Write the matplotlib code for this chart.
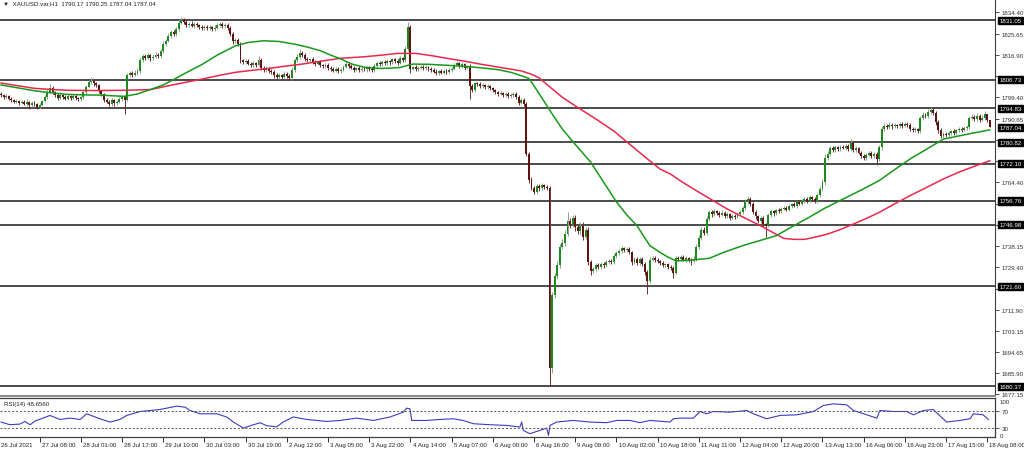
import matplotlib
matplotlib.use('Agg')
import matplotlib.pyplot as plt
import numpy as np
from matplotlib.transforms import blended_transform_factory

plt.rcParams['font.family'] = ['Liberation Sans', 'DejaVu Sans']

# ---------------- data ----------------
first_open = 1800.6
closes = [
    1800.2, 1799.5, 1799.8, 1798.9, 1798.2, 1797.6, 1797.9, 1797.2, 1797.5, 1796.8, 1797.4, 1796.2, 1797.0, 1796.5, 1795.6, 1796.4,
    1797.8, 1799.6, 1801.8, 1803.2, 1801.5, 1800.2, 1799.1, 1800.4, 1799.6, 1798.8, 1799.9, 1799.3, 1800.1, 1799.0, 1798.6, 1799.4,
    1801.5, 1803.8, 1805.6, 1806.2, 1805.1, 1804.3, 1802.0, 1800.6, 1798.4, 1797.5, 1796.8, 1798.2, 1797.0, 1797.6, 1798.8, 1799.6,
    1798.5, 1808.6, 1809.4, 1808.8, 1809.6, 1810.2, 1814.8, 1816.3, 1815.6, 1816.8, 1815.4, 1816.2, 1817.0, 1816.4, 1818.5, 1821.4,
    1822.6, 1824.8, 1826.3, 1825.5, 1827.4, 1830.2, 1831.4, 1830.6, 1829.1, 1829.8, 1828.9, 1829.6, 1829.2, 1828.4, 1827.9, 1828.5,
    1827.8, 1828.3, 1827.6, 1828.1, 1829.0, 1829.6, 1828.7, 1829.3, 1828.1, 1825.6, 1822.4, 1822.9, 1821.5, 1814.6, 1813.8, 1814.4,
    1813.2, 1812.6, 1813.4, 1812.9, 1814.8, 1811.5, 1810.6, 1811.2, 1810.3, 1809.8, 1808.4, 1807.6, 1808.5, 1807.9, 1809.2, 1808.1,
    1807.4, 1810.8, 1814.6, 1816.2, 1817.6, 1816.9, 1815.3, 1814.6, 1815.1, 1813.9, 1813.2, 1813.8, 1812.6, 1812.1, 1812.8, 1811.6,
    1811.2, 1810.4, 1811.0, 1810.2, 1810.8, 1811.9, 1813.2, 1812.4, 1811.6, 1810.7, 1811.3, 1810.6, 1811.2, 1810.9, 1811.5, 1811.0,
    1810.6, 1812.4, 1813.6, 1813.1, 1814.0, 1813.5, 1814.2, 1813.8, 1815.0, 1814.4, 1813.6, 1815.4, 1814.8, 1819.5, 1828.4, 1811.2,
    1811.8, 1810.9, 1811.6, 1812.0, 1811.4, 1811.9, 1811.2, 1810.6, 1810.0, 1809.4, 1810.2, 1809.6, 1810.4, 1809.8, 1810.6, 1811.2,
    1812.8, 1813.4, 1812.2, 1813.0, 1811.6, 1812.1, 1804.0, 1802.6, 1805.2, 1804.8, 1804.0, 1804.4, 1803.6, 1803.9, 1803.2, 1802.4,
    1801.4, 1800.8, 1801.2, 1800.3, 1800.7, 1799.9, 1800.4, 1800.9, 1799.6, 1797.2, 1798.4, 1796.8, 1776.2, 1765.4, 1762.0, 1760.6,
    1762.8, 1761.9, 1763.2, 1762.6, 1762.1, 1688.0, 1718.0, 1726.0, 1730.4, 1737.8, 1739.6, 1743.2, 1748.4, 1747.0, 1749.6, 1745.8,
    1744.2, 1746.6, 1742.0, 1744.8, 1731.6, 1727.8, 1728.6, 1730.2, 1729.6, 1730.8, 1730.2, 1731.4, 1732.0, 1731.6, 1734.0, 1735.2,
    1736.0, 1737.2, 1736.4, 1737.0, 1735.6, 1731.4, 1732.8, 1731.2, 1733.0, 1730.6, 1727.4, 1723.8, 1732.6, 1733.2, 1732.4, 1731.8,
    1731.0, 1730.2, 1730.6, 1729.4, 1729.0, 1727.2, 1733.4, 1732.8, 1733.6, 1732.6, 1733.2, 1732.4, 1731.8, 1733.0, 1737.8, 1741.6,
    1744.8, 1743.6, 1749.2, 1752.0, 1751.2, 1752.4, 1751.6, 1751.0, 1751.8, 1750.6, 1751.2, 1749.8, 1750.6, 1750.2, 1751.4, 1752.0,
    1753.8, 1756.2, 1757.4, 1755.6, 1752.0, 1750.4, 1748.6, 1749.8, 1747.2, 1746.6, 1750.8, 1752.4, 1751.6, 1753.0, 1752.6, 1753.4,
    1754.0, 1753.2, 1754.6, 1755.4, 1754.8, 1756.2, 1755.6, 1756.8, 1757.6, 1756.8, 1758.2, 1757.4, 1756.6, 1759.2, 1761.8, 1764.6,
    1774.6, 1776.2, 1778.4, 1777.6, 1778.8, 1778.2, 1779.0, 1778.6, 1779.4, 1778.0, 1780.6, 1777.8, 1778.4, 1776.6, 1775.2, 1774.4,
    1775.8, 1776.6, 1775.4, 1776.2, 1774.0, 1778.8, 1786.4, 1787.8, 1787.0, 1788.2, 1787.4, 1788.0, 1787.6, 1788.4, 1787.8, 1788.6,
    1788.0, 1786.4, 1785.8, 1786.2, 1785.6, 1790.8, 1792.2, 1791.6, 1793.4, 1794.2, 1793.0, 1789.2, 1786.0, 1783.6, 1784.4, 1783.8,
    1784.8, 1785.4, 1784.6, 1785.8, 1786.4, 1786.0, 1786.8, 1787.2, 1790.8, 1791.4, 1790.6, 1791.8, 1790.2, 1791.0, 1792.6, 1790.17, 1787.04,
]
wick_up = [
    0.8, 0.6, 0.9, 0.5, 0.7, 0.6, 1.0, 0.5, 0.8, 0.6, 1.2, 0.5, 0.7, 0.9, 0.6, 0.8,
    0.6, 0.9, 1.2, 1.8, 0.7, 0.6, 0.8, 1.0, 0.5, 0.7, 0.9, 0.6, 0.8, 0.5, 0.7, 0.6,
    0.8, 0.7, 1.0, 1.4, 0.6, 0.8, 0.7, 0.6, 0.5, 0.8, 0.7, 0.9, 0.6, 0.8, 0.7, 0.9,
    0.9, 1.0, 0.8, 0.7, 0.9, 1.1, 1.2, 0.8, 0.9, 0.7, 0.6, 0.9, 1.0, 0.8, 0.9, 1.1,
    0.8, 1.0, 0.9, 0.8, 1.1, 1.3, 1.0, 0.7, 0.8, 0.6, 0.9, 0.7, 0.8, 0.6, 0.7, 0.8,
    0.7, 0.8, 0.6, 0.9, 1.2, 0.8, 0.7, 0.9, 0.6, 0.8, 0.7, 0.9, 0.8, 0.6, 0.7, 0.8,
    0.7, 0.8, 0.9, 0.6, 1.6, 0.8, 0.7, 0.9, 0.6, 0.8, 0.7, 0.9, 0.8, 0.6, 0.9, 0.7,
    0.8, 0.9, 1.0, 1.2, 1.8, 0.8, 0.7, 0.9, 0.6, 0.8, 0.7, 0.6, 0.8, 0.7, 0.9, 0.6,
    0.6, 0.8, 0.7, 0.9, 0.6, 0.8, 1.0, 0.7, 0.6, 0.8, 0.7, 0.9, 0.6, 0.8, 0.7, 0.6,
    0.7, 0.8, 0.9, 0.6, 0.8, 0.7, 0.9, 0.6, 0.8, 0.7, 0.6, 0.9, 0.8, 1.2, 2.1, 0.6,
    0.7, 0.8, 0.6, 0.9, 0.7, 0.8, 0.6, 0.7, 0.8, 0.9, 0.6, 0.7, 0.8, 0.6, 0.9, 0.7,
    0.9, 0.8, 0.7, 0.9, 0.6, 0.8, 0.9, 0.8, 0.7, 0.6, 0.8, 0.7, 0.6, 0.8, 0.7, 0.6,
    0.6, 0.7, 0.8, 0.6, 0.7, 0.8, 0.6, 0.7, 0.8, 0.6, 0.9, 0.7, 0.6, 0.8, 1.0, 0.9,
    0.8, 0.9, 1.0, 0.7, 0.9, 0.6, 1.4, 1.2, 1.5, 1.3, 1.6, 1.4, 3.6, 1.2, 1.4, 1.5,
    1.2, 1.4, 1.5, 1.1, 1.0, 0.9, 0.8, 1.0, 0.9, 0.8, 0.7, 0.9, 0.8, 0.7, 0.9, 1.0,
    0.8, 0.9, 0.7, 0.8, 0.9, 0.7, 0.8, 0.9, 0.7, 0.8, 0.9, 0.8, 1.0, 0.9, 0.8, 0.7,
    0.7, 0.8, 0.6, 0.7, 0.8, 0.9, 0.8, 0.7, 0.9, 0.8, 0.7, 0.6, 0.8, 0.9, 1.0, 1.2,
    1.1, 1.2, 1.4, 1.0, 0.8, 0.9, 0.7, 0.8, 0.9, 0.7, 0.8, 0.6, 0.7, 0.8, 0.9, 1.0,
    0.9, 1.1, 1.3, 0.8, 0.7, 0.9, 0.6, 0.8, 0.7, 0.6, 0.8, 0.9, 0.7, 0.6, 0.8, 0.7,
    0.8, 0.7, 0.9, 0.6, 0.8, 0.7, 0.9, 0.8, 0.7, 0.6, 0.9, 0.7, 0.8, 1.0, 1.1, 1.2,
    1.3, 1.0, 0.9, 0.8, 0.9, 0.7, 0.8, 0.9, 0.7, 0.8, 1.6, 0.9, 0.8, 0.7, 0.9, 0.8,
    0.7, 0.8, 0.9, 0.7, 0.6, 1.0, 1.3, 1.0, 0.8, 0.9, 0.7, 0.8, 0.6, 0.9, 0.7, 0.8,
    0.7, 0.8, 0.6, 0.9, 0.7, 1.0, 1.1, 0.9, 1.0, 1.2, 1.0, 0.8, 0.9, 0.7, 0.8, 0.6,
    0.8, 0.7, 0.9, 0.6, 0.8, 0.7, 0.9, 0.8, 1.0, 1.2, 0.9, 1.1, 0.8, 1.0, 1.3, 0.08, 0.0,
]
wick_dn = [
    0.6, 0.9, 0.5, 0.8, 0.6, 0.7, 0.5, 0.9, 0.6, 0.7, 0.8, 1.4, 0.6, 0.5, 1.1, 0.6,
    0.7, 0.5, 0.8, 0.6, 0.9, 0.7, 0.6, 0.5, 0.8, 0.6, 0.7, 0.9, 0.5, 0.6, 0.8, 0.7,
    0.6, 0.8, 0.5, 0.7, 0.9, 0.6, 0.8, 0.7, 0.9, 0.6, 1.0, 0.8, 1.2, 0.7, 0.6, 0.8,
    6.0, 0.8, 0.7, 0.9, 0.6, 0.8, 0.7, 0.9, 0.8, 0.6, 0.9, 0.7, 0.8, 0.6, 0.7, 0.9,
    0.7, 0.6, 0.8, 0.9, 0.7, 0.8, 0.6, 0.9, 0.7, 0.8, 0.6, 0.9, 0.7, 0.8, 0.9, 0.6,
    0.8, 0.6, 0.9, 0.7, 0.6, 0.8, 0.9, 0.7, 0.8, 0.9, 1.0, 0.8, 0.9, 1.1, 0.8, 0.7,
    0.6, 0.8, 0.7, 0.9, 0.6, 0.8, 0.9, 0.7, 0.8, 0.6, 0.9, 1.0, 0.7, 0.8, 0.6, 0.9,
    1.0, 0.7, 0.8, 0.6, 0.9, 0.7, 0.8, 0.6, 0.7, 0.9, 0.8, 0.6, 0.7, 0.8, 0.6, 0.9,
    0.8, 0.7, 0.6, 0.9, 0.8, 0.7, 0.6, 0.8, 0.7, 0.9, 0.6, 0.8, 0.7, 0.6, 0.9, 0.7,
    0.8, 0.6, 0.7, 0.9, 0.6, 0.8, 0.7, 0.9, 0.6, 0.8, 0.7, 0.6, 0.8, 0.7, 0.9, 1.7,
    0.6, 0.8, 0.7, 0.6, 0.9, 0.7, 0.8, 0.6, 0.7, 0.8, 0.9, 0.6, 0.7, 0.8, 0.6, 0.7,
    0.7, 0.6, 0.8, 0.7, 0.9, 0.6, 5.3, 0.9, 0.8, 0.7, 0.6, 0.8, 0.7, 0.6, 0.8, 0.7,
    0.7, 0.8, 0.6, 0.7, 0.8, 0.6, 0.7, 0.8, 0.9, 0.8, 0.7, 1.0, 0.8, 1.2, 0.9, 1.1,
    0.9, 1.0, 0.8, 0.9, 0.8, 7.6, 2.0, 1.3, 1.4, 1.2, 1.0, 1.3, 1.1, 1.4, 1.2, 1.3,
    1.1, 1.3, 1.2, 1.0, 1.4, 1.5, 0.9, 0.8, 1.0, 0.7, 0.9, 0.8, 0.7, 0.9, 0.8, 0.7,
    0.7, 0.8, 0.9, 0.7, 0.8, 0.9, 0.7, 0.8, 0.9, 0.8, 1.2, 5.3, 0.9, 0.8, 0.7, 0.8,
    0.8, 0.6, 0.7, 0.9, 0.8, 2.2, 0.7, 0.8, 0.6, 0.7, 0.9, 0.8, 1.4, 0.7, 0.8, 0.9,
    1.0, 0.9, 0.8, 0.7, 0.9, 0.6, 0.8, 0.7, 0.6, 0.8, 0.7, 0.9, 0.6, 0.8, 0.7, 0.6,
    0.7, 0.8, 0.6, 0.9, 0.8, 1.0, 0.9, 1.1, 1.0, 4.6, 0.8, 0.7, 0.9, 0.6, 0.8, 0.7,
    0.6, 0.8, 0.7, 0.9, 0.6, 0.8, 0.7, 0.6, 0.8, 0.9, 0.7, 0.6, 0.8, 0.7, 0.9, 1.0,
    1.2, 0.9, 0.8, 0.7, 0.9, 0.8, 0.7, 0.6, 0.8, 0.9, 0.7, 0.8, 0.9, 0.7, 0.8, 0.9,
    0.8, 0.7, 0.9, 0.8, 2.5, 1.0, 1.2, 0.9, 0.8, 0.7, 0.9, 0.6, 0.8, 0.7, 0.9, 0.6,
    0.8, 0.9, 0.7, 0.6, 0.8, 0.9, 0.7, 0.8, 0.6, 0.9, 0.8, 1.0, 1.2, 1.1, 0.8, 0.9,
    0.7, 0.8, 0.6, 0.9, 0.7, 0.8, 0.6, 0.9, 0.8, 0.7, 0.9, 0.8, 1.0, 0.7, 0.8, 0.9, 0.0,
]

ma_green_idx = [0, 6, 13, 20, 26, 33, 39, 44, 48, 53, 58, 63, 67, 72, 78, 84, 91, 96, 102, 108, 114, 119, 124,
                128, 132, 136, 141, 147, 151, 155, 158, 160, 166, 173, 178, 182, 187, 193, 198, 202, 205, 208,
                212, 215, 218, 223, 229, 234, 239, 243, 247, 250, 252, 256, 259, 262, 266, 269, 275, 281, 288,
                294, 301, 307, 314, 320, 327, 334, 341, 347, 353, 360, 366, 372, 378, 384]
ma_green_val = [1804.5, 1803.4, 1802.1, 1801.2, 1800.6, 1800.4, 1800.3, 1800.0, 1799.8, 1800.8, 1802.6, 1804.5,
                1806.7, 1809.6, 1812.9, 1816.8, 1820.6, 1822.0, 1822.7, 1822.4, 1821.3, 1820.1, 1818.6, 1816.8,
                1815.2, 1813.2, 1811.8, 1811.3, 1811.4, 1811.7, 1812.6, 1813.1, 1813.0, 1812.6, 1812.3, 1812.0,
                1811.5, 1810.8, 1809.7, 1808.3, 1807.2, 1802.5, 1795.9, 1791.0, 1786.3, 1780.0, 1772.7, 1764.5,
                1756.3, 1751.0, 1746.5, 1741.5, 1738.3, 1735.5, 1733.6, 1732.1, 1732.2, 1732.5, 1733.1, 1735.7,
                1738.3, 1740.2, 1742.4, 1746.0, 1750.1, 1753.8, 1757.5, 1761.2, 1765.1, 1769.6, 1774.0, 1778.4,
                1782.2, 1783.5, 1784.8, 1786.0]
ma_red_idx = [0, 7, 13, 20, 26, 37, 48, 58, 68, 78, 85, 91, 98, 104, 110, 117, 125, 132, 141, 148, 154, 161,
              167, 173, 180, 186, 194, 202, 206, 209, 213, 218, 224, 231, 238, 244, 250, 256, 260, 264, 269, 276,
              282, 289, 295, 300, 304, 308, 312, 316, 321, 326, 331, 336, 341, 347, 353, 360, 366, 372, 378, 384]
ma_red_val = [1805.3, 1804.1, 1803.1, 1802.6, 1802.3, 1802.2, 1802.3, 1802.6, 1804.8, 1806.9, 1808.5, 1809.7,
              1810.6, 1811.3, 1812.2, 1813.1, 1814.4, 1815.5, 1816.1, 1816.8, 1817.5, 1817.5, 1816.6, 1815.5,
              1814.3, 1813.1, 1811.7, 1810.3, 1808.9, 1807.4, 1803.8, 1799.4, 1795.2, 1790.5, 1785.5, 1780.2,
              1774.9, 1769.8, 1767.8, 1764.9, 1761.6, 1757.2, 1753.4, 1749.6, 1746.5, 1743.6, 1741.3, 1740.9,
              1740.9, 1741.8, 1743.1, 1745.0, 1747.2, 1749.5, 1752.0, 1755.5, 1758.9, 1762.6, 1765.8, 1768.6,
              1771.0, 1773.3]

rsi_idx = [0, 3.5, 7.4, 9.3, 11.3, 13.2, 19, 22.9, 26.8, 30.7, 33.3, 38.4, 42.3, 46.2, 48.8, 54, 61.7, 68.2,
           71.5, 73.4, 77.3, 83.8, 87.6, 90.2, 94.1, 98, 100.6, 103.2, 107, 109.6, 113.5, 118.7, 126.5, 131.7,
           138.1, 144.6, 151.1, 156.2, 157.5, 158.8, 159.5, 165.3, 170.5, 175.6, 179.5, 183.4, 189.9, 196.4,
           201.5, 202.2, 202.8, 205.4, 209.3, 211.9, 212.6, 213.2, 215.8, 222.2, 224.8, 228.7, 235.2, 239.1,
           244.3, 248.1, 252, 259.8, 261.1, 263.7, 268.9, 271.4, 274, 276.6, 283.1, 289.6, 292.2, 297.3,
           302.5, 309, 315.5, 319.3, 323.2, 328.4, 331, 336.2, 340.1, 341.3, 346.5, 351.7, 354.3, 358.2,
           362, 367.2, 372.4, 376.3, 377.6, 381.4, 383.4]
rsi_val = [43.2, 36.9, 38.5, 44.6, 36.9, 45.4, 58.5, 49.2, 52.3, 49.2, 62.4, 50.8, 43.2, 49.2, 58.5, 67.7,
           72.3, 80.1, 77.8, 70.0, 62.4, 62.4, 55.0, 43.2, 29.2, 36.9, 41.5, 34.7, 32.0, 43.2, 55.0, 49.2,
           44.6, 46.9, 52.3, 46.9, 55.0, 66.2, 75.5, 73.9, 46.9, 46.9, 49.2, 50.8, 46.9, 39.3, 36.9, 35.4,
           31.6, 43.2, 23.8, 16.1, 23.8, 29.2, 12.2, 35.4, 43.2, 46.9, 45.4, 43.2, 41.7, 46.9, 46.9, 41.7,
           46.9, 43.2, 50.8, 52.3, 52.3, 67.7, 62.4, 67.7, 66.2, 70.0, 62.4, 50.8, 58.5, 60.0, 67.7, 81.6,
           85.5, 83.2, 70.0, 60.0, 52.3, 70.0, 67.7, 67.7, 60.0, 70.0, 72.3, 43.2, 46.9, 50.8, 62.4, 60.0, 49.2]

levels = [1831.05, 1806.73, 1794.83, 1780.82, 1772.10, 1756.76, 1746.98, 1721.60, 1680.37]
price_ticks = [1834.40, 1825.65, 1816.90, 1808.15, 1799.40, 1790.65, 1781.90, 1773.15, 1764.40, 1755.65,
               1746.90, 1738.15, 1729.40, 1720.65, 1711.90, 1703.15, 1694.65, 1685.90, 1677.15]
# tick labels hidden behind the level boxes in the reference
hidden_ticks = [1808.15, 1781.90, 1773.15, 1755.65, 1746.90, 1720.65]
time_labels = ['27 Jul 08:00', '28 Jul 01:00', '28 Jul 17:00', '29 Jul 10:00', '30 Jul 03:00', '30 Jul 19:00',
               '2 Aug 12:00', '3 Aug 05:00', '3 Aug 22:00', '4 Aug 14:00', '5 Aug 07:00', '6 Aug 00:00',
               '6 Aug 16:00', '9 Aug 09:00', '10 Aug 02:00', '10 Aug 18:00', '11 Aug 11:00', '12 Aug 04:00',
               '12 Aug 20:00', '13 Aug 13:00', '16 Aug 06:00', '16 Aug 23:00', '17 Aug 15:00', '18 Aug 08:00']
first_label = '26 Jul 2021'
current_price = 1787.04
header = '\u25BC  XAUUSD.var,H1  1790.17 1790.25 1787.04 1787.04'
rsi_title = 'RSI(14) 48.6560'

# ---------------- derived ----------------
c = np.array(closes)
o = np.concatenate([[first_open], c[:-1]])
hi = np.maximum(o, c) + np.array(wick_up)
lo = np.minimum(o, c) - np.array(wick_dn)
x = np.arange(len(c))

FS = 4.4
W, H = 1024, 452
fig = plt.figure(figsize=(W / 100, H / 100), dpi=100)
fig.patch.set_facecolor('white')
ax = fig.add_axes([0, 55.5 / H, 995 / W, 396.5 / H])
axr = fig.add_axes([0, 14 / H, 995 / W, 39 / H])

xlim = (-0.39, 386.0)
ax.set_xlim(*xlim)
ax.set_ylim(1676.6, 1839.9)

# level lines
for lv in levels:
    ax.axhline(lv, color='#1a1a1a', lw=1.1, zorder=1)

# candles
bull = c >= o
ax.vlines(x[bull], lo[bull], hi[bull], color='#9a9a9a', lw=0.7, zorder=2)
ax.vlines(x[~bull], lo[~bull], hi[~bull], color='#6a3030', lw=0.7, zorder=2)
body_h = np.maximum(np.abs(c - o), 0.12)
body_b = np.minimum(o, c)
ax.bar(x[bull], body_h[bull], bottom=body_b[bull], width=0.75, color='#1c8a1c', lw=0, zorder=3)
ax.bar(x[~bull], body_h[~bull], bottom=body_b[~bull], width=0.75, color='#5e1212', lw=0, zorder=3)

# moving averages
ax.plot(ma_red_idx, ma_red_val, color='#e8284a', lw=1.1, zorder=4)
ax.plot(ma_green_idx, ma_green_val, color='#16991a', lw=1.1, zorder=4)

# axes styling main
ax.yaxis.tick_right()
ax.set_yticks(price_ticks)
ax.set_yticklabels(['' if t in hidden_ticks else f'{t:.2f}' for t in price_ticks])
ax.tick_params(axis='y', labelsize=FS, colors='#303030', length=3, width=0.6, pad=1.5, direction='out')
ax.set_xticks([])
for s in ['left', 'top']:
    ax.spines[s].set_visible(False)
ax.spines['right'].set_color('#404040')
ax.spines['right'].set_linewidth(0.8)
ax.spines['bottom'].set_color('#8a8a8a')
ax.spines['bottom'].set_linewidth(1.4)

tr = blended_transform_factory(ax.transAxes, ax.transData)
for lv in levels + [current_price]:
    ax.text(1.0045, lv, f'{lv:.2f}', transform=tr, color='white', fontsize=FS, va='center', ha='left',
            zorder=10, bbox=dict(boxstyle='square,pad=0.2', fc='black', ec='black'))

fig.text(3 / W, 1 - 4 / H, header, fontsize=FS, va='center', ha='left', color='#202020')

# RSI panel
axr.set_xlim(*xlim)
axr.set_ylim(8.4, 99.1)
axr.plot(rsi_idx, rsi_val, color='#3c3cc0', lw=0.8)
for lv in (30, 70):
    axr.axhline(lv, color='#555555', lw=0.7, ls=(0, (2, 2)))
axr.yaxis.tick_right()
axr.set_yticks([30, 70])
axr.set_yticklabels(['30', '70'])
axr.tick_params(axis='y', labelsize=FS, colors='#303030', length=3, width=0.6, pad=1.5)
rt = axr.transAxes
axr.text(1.005, 0.92, '100', transform=rt, fontsize=FS, va='center', ha='left', color='#303030')
axr.text(1.005, 0.03, '0', transform=rt, fontsize=FS, va='center', ha='left', color='#303030')
axr.text(0.004, 0.86, rsi_title, transform=rt, fontsize=FS, va='center', ha='left', color='#202020')
axr.spines['left'].set_visible(False)
for s in ['top', 'right', 'bottom']:
    axr.spines[s].set_color('#404040')
    axr.spines[s].set_linewidth(0.9)

tick_pos = [15 + 16 * k for k in range(len(time_labels))]
axr.set_xticks(tick_pos)
axr.set_xticklabels([])
axr.tick_params(axis='x', length=3.5, width=0.7, colors='#303030', direction='out')
bt = blended_transform_factory(axr.transData, axr.transAxes)
axr.text(0.0, -0.19, first_label, transform=bt, fontsize=FS, va='center', ha='left', color='#202020')
for p, lab in zip(tick_pos, time_labels):
    axr.text(p + 0.8, -0.19, lab, transform=bt, fontsize=FS, va='center', ha='left', color='#202020',
             clip_on=False)

fig.savefig('out.png', dpi=100)
